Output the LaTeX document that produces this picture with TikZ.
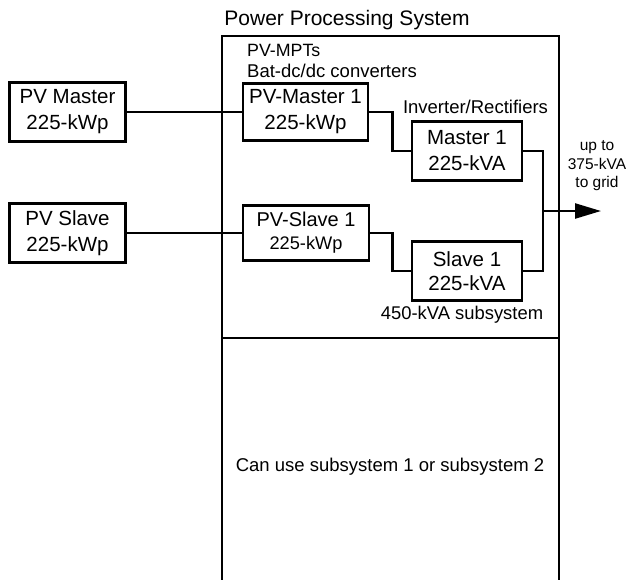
\documentclass[tikz,border=0pt]{standalone}
\usepackage{fontspec}
\setmainfont{Liberation Sans}
\usetikzlibrary{arrows.meta}
\tikzset{
  wire/.style={line width=2.4pt, line cap=rect},
  unitbox/.style={draw, line width=2.6pt, inner sep=0pt, align=center,
    font=\fontsize{20.5}{26}\selectfont},
  lbl/.style={inner sep=0pt, align=center},
}
\begin{document}
\begin{tikzpicture}[x=1pt,y=-1pt]
\useasboundingbox (0,0) rectangle (626,579);
% outer frame of the power processing system
\draw[line width=2.6pt] (222,590) -- (222,36) -- (559,36) -- (559,590);
\draw[line width=2.6pt] (222,338) -- (559,338);
\node[lbl, font=\fontsize{21}{25}\selectfont] (title) at (347,20) {Power Processing System};
\node[lbl, anchor=west, font=\fontsize{17.8}{21}\selectfont] (mpt) at (247,50) {PV-MPTs};
\node[lbl, anchor=west, font=\fontsize{18.5}{22}\selectfont] (bat) at (247,71) {Bat-dc/dc converters};
\node[lbl, font=\fontsize{18.5}{22}\selectfont] (inv) at (475.5,107) {Inverter/Rectifiers};
% boxes
\node[unitbox, minimum width=116pt, minimum height=59pt] (pvm) at (67.5,112) {PV Master\\225-kWp};
\node[unitbox, minimum width=116pt, minimum height=59pt] (pvs) at (67.5,233) {PV Slave\\225-kWp};
\node[unitbox, minimum width=125pt, minimum height=57pt] (pvm1) at (305.5,112) {PV-Master 1\\225-kWp};
\node[unitbox, minimum width=126pt, minimum height=55pt, font=\fontsize{20}{23}\selectfont] (pvs1) at (306,233) {PV-Slave 1\\{\fontsize{18.2}{22}\selectfont 225-kWp}};
\node[unitbox, minimum width=110pt, minimum height=59pt] (m1) at (467,151) {Master 1\\225-kVA};
\node[unitbox, minimum width=110pt, minimum height=59pt, font=\fontsize{20.5}{24}\selectfont] (s1) at (467,271) {Slave 1\\225-kVA};
\node[lbl, font=\fontsize{18.4}{22}\selectfont] (sub) at (462,315) {450-kVA subsystem};
\node[lbl, font=\fontsize{18.5}{22}\selectfont] (can) at (390,467) {Can use subsystem 1 or subsystem 2};
\node[lbl, font=\fontsize{15.5}{18.5}\selectfont] (grid) at (597,166) {up to\\375-kVA\\to grid};
% connectors
\coordinate (j) at (543,211);
\coordinate (out) at (601,211);
\draw[wire] (pvm.east) -- (pvm1.west);
\draw[wire] (pvs.east) -- (pvs1.west);
\draw[wire] (pvm1.east) -- ++(23,0) |- (m1.west);
\draw[wire] (pvs1.east) -- ++(22,0) |- (s1.west);
\draw[wire] (m1.east) -| (j);
\draw[wire] (s1.east) -| (j);
\draw[wire, line cap=butt, -{Triangle[length=26pt,width=15pt]}] (j) -- (out);
\end{tikzpicture}
\end{document}
